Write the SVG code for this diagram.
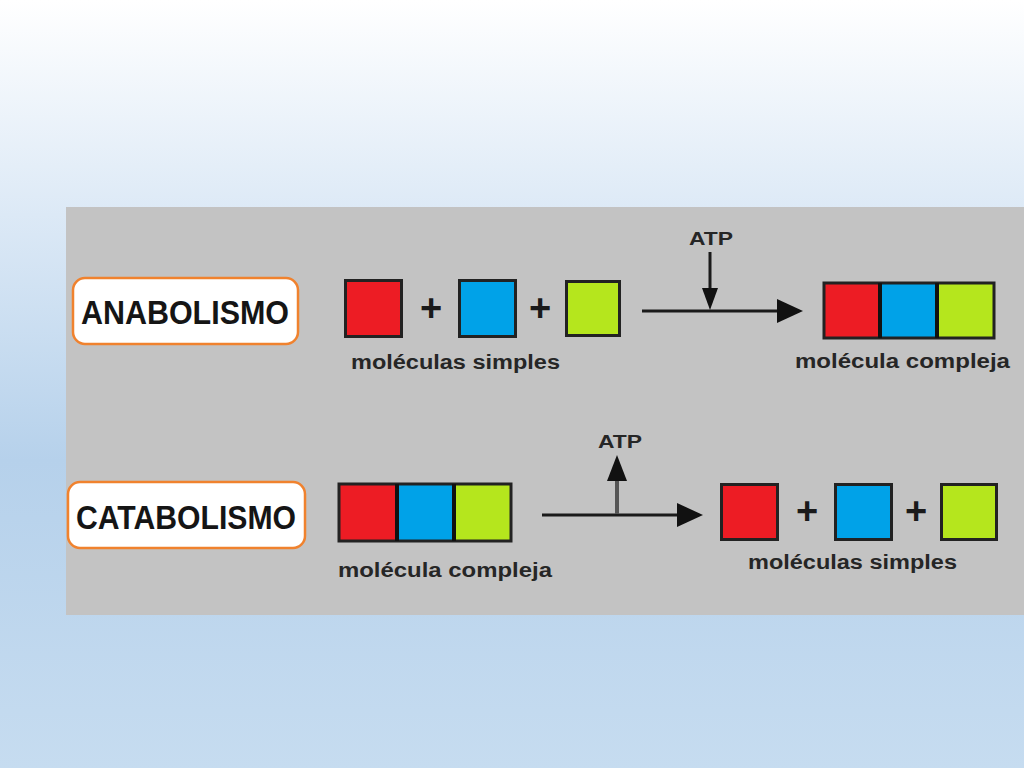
<svg xmlns="http://www.w3.org/2000/svg" width="1024" height="768" viewBox="0 0 1024 768">
  <defs>
    <linearGradient id="bg" x1="0" y1="0" x2="0" y2="1">
      <stop offset="0" stop-color="#ffffff"/>
      <stop offset="0.28" stop-color="#dce9f6"/>
      <stop offset="0.6" stop-color="#b6d1eb"/>
      <stop offset="1" stop-color="#c6dcf0"/>
    </linearGradient>
    <style>
      .label { fill: #ffffff; stroke: #f0822e; stroke-width: 2.5; }
      .title { font-family: "Liberation Sans", Arial, sans-serif; font-weight: bold; font-size: 33px; fill: #151515; text-anchor: middle; }
      .cap { font-family: "Liberation Sans", Arial, sans-serif; font-weight: bold; font-size: 20px; fill: #262626; }
      .atp { font-family: "Liberation Sans", Arial, sans-serif; font-weight: bold; font-size: 19px; fill: #262626; text-anchor: middle; }
      .plus { font-family: "Liberation Sans", Arial, sans-serif; font-weight: bold; font-size: 38px; fill: #1a1a1a; text-anchor: middle; }
      .sq { stroke: #222; stroke-width: 3; }
      .red { fill: #ed1c24; }
      .blue { fill: #00a2e8; }
      .green { fill: #b5e61d; }
      .ln { stroke: #1a1a1a; stroke-width: 3; fill: none; }
      .head { fill: #111; }
    </style>
  </defs>

  <rect x="0" y="0" width="1024" height="768" fill="url(#bg)"/>
  <rect x="66" y="207" width="958" height="408" fill="#c3c3c3"/>

  <!-- Anabolism row -->
  <g id="anabolismo">
    <rect class="label" x="73" y="278" width="225" height="66" rx="12"/>
    <text class="title" x="185" y="324" textLength="208" lengthAdjust="spacingAndGlyphs">ANABOLISMO</text>
  </g>
  <g id="ana-simples">
    <rect class="sq red" x="345.5" y="280.5" width="56" height="56"/>
    <text class="plus" x="431" y="321">+</text>
    <rect class="sq blue" x="459.5" y="280.5" width="56" height="56"/>
    <text class="plus" x="540" y="321">+</text>
    <rect class="sq green" x="566.5" y="281.5" width="53" height="54"/>
    <text class="cap" x="351" y="369" textLength="209" lengthAdjust="spacingAndGlyphs">moléculas simples</text>
  </g>
  <g id="ana-atp">
    <text class="atp" x="711" y="245" textLength="44" lengthAdjust="spacingAndGlyphs">ATP</text>
  </g>
  <g id="ana-compleja">
    <rect class="red" x="824" y="283" width="55" height="55"/>
    <rect class="blue" x="880" y="283" width="56" height="55"/>
    <rect class="green" x="937" y="283" width="56" height="55"/>
    <rect class="sq" x="824" y="283" width="170" height="55" fill="none"/>
    <line x1="880" y1="283" x2="880" y2="338" stroke="#111" stroke-width="4"/>
    <line x1="937" y1="283" x2="937" y2="338" stroke="#111" stroke-width="4"/>
    <text class="cap" x="795" y="368" textLength="215" lengthAdjust="spacingAndGlyphs">molécula compleja</text>
  </g>

  <!-- Catabolism row -->
  <g id="catabolismo">
    <rect class="label" x="68" y="482" width="237" height="66" rx="12"/>
    <text class="title" x="186" y="529" textLength="220" lengthAdjust="spacingAndGlyphs">CATABOLISMO</text>
  </g>
  <g id="cata-compleja">
    <rect class="red" x="339" y="484" width="57" height="57"/>
    <rect class="blue" x="397" y="484" width="56" height="57"/>
    <rect class="green" x="454" y="484" width="57" height="57"/>
    <rect class="sq" x="339" y="484" width="172" height="57" fill="none"/>
    <line x1="397" y1="484" x2="397" y2="541" stroke="#111" stroke-width="4"/>
    <line x1="454" y1="484" x2="454" y2="541" stroke="#111" stroke-width="4"/>
    <text class="cap" x="338" y="577" textLength="214" lengthAdjust="spacingAndGlyphs">molécula compleja</text>
  </g>
  <g id="cata-atp">
    <text class="atp" x="620" y="448" textLength="44" lengthAdjust="spacingAndGlyphs">ATP</text>
  </g>
  <g id="cata-simples">
    <rect class="sq red" x="721.5" y="484.5" width="56" height="55"/>
    <text class="plus" x="807" y="524">+</text>
    <rect class="sq blue" x="835.5" y="484.5" width="56" height="55"/>
    <text class="plus" x="916" y="524">+</text>
    <rect class="sq green" x="941.5" y="484.5" width="55" height="55"/>
    <text class="cap" x="748" y="569" textLength="209" lengthAdjust="spacingAndGlyphs">moléculas simples</text>
  </g>

  <!-- Connectors -->
  <g id="connectors">
    <line class="ln" x1="642" y1="311" x2="780" y2="311"/>
    <path class="head" d="M777,299 L803,311 L777,323 Z"/>
    <line class="ln" x1="710" y1="252" x2="710" y2="292"/>
    <path class="head" d="M702,288 L718,288 L710,310 Z"/>

    <line class="ln" x1="542" y1="515" x2="680" y2="515"/>
    <path class="head" d="M677,503 L703,515 L677,527 Z"/>
    <line x1="617" y1="514" x2="617" y2="478" stroke="#555" stroke-width="4"/>
    <path class="head" d="M607,481 L627,481 L617,455 Z"/>
  </g>
</svg>
